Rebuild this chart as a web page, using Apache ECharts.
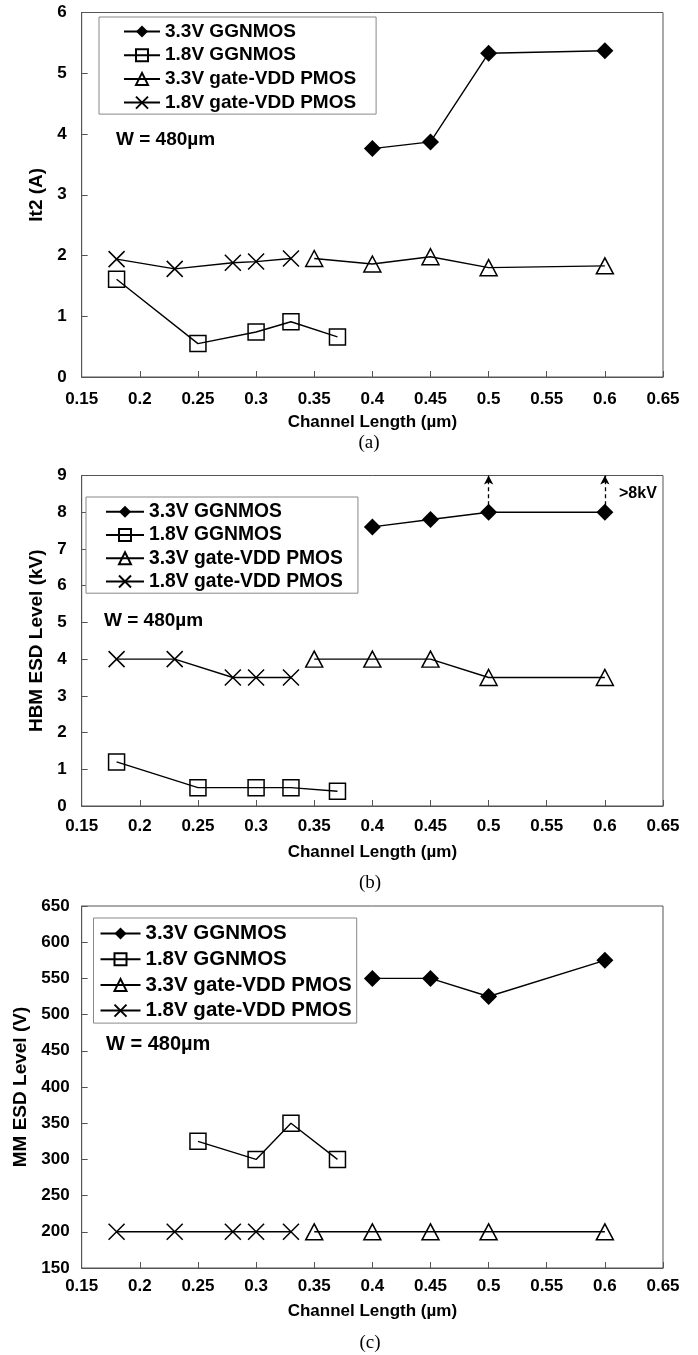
<!DOCTYPE html>
<html>
<head>
<meta charset="utf-8">
<script src="https://cdn.jsdelivr.net/npm/echarts@6/dist/echarts.min.js"></script>
<style>
html,body{margin:0;padding:0;background:#fff;}
#c{width:698px;height:1355px;}
</style>
</head>
<body>
<div id="c"></div>
<script>
// ---------- data ----------
const seriesNames = ['3.3V GGNMOS', '1.8V GGNMOS', '3.3V gate-VDD PMOS', '1.8V gate-VDD PMOS'];
const xGG33 = [0.40, 0.45, 0.50, 0.60];
const xGG18 = [0.18, 0.25, 0.30, 0.33, 0.37];
const xGG18mm = [0.25, 0.30, 0.33, 0.37];
const xPM33 = [0.35, 0.40, 0.45, 0.50, 0.60];
const xPM18 = [0.18, 0.23, 0.28, 0.30, 0.33];

// (a) It2 (A)
const it2GG33 = [3.76, 3.87, 5.33, 5.37];
const it2GG18 = [1.61, 0.55, 0.74, 0.91, 0.66];
const it2PM33 = [1.95, 1.86, 1.98, 1.80, 1.83];
const it2PM18 = [1.94, 1.78, 1.88, 1.90, 1.95];

// (b) HBM ESD level (kV)
const hbmGG33 = [7.6, 7.8, 8.0, 8.0];
const hbmGG18 = [1.2, 0.5, 0.5, 0.5, 0.4];
const hbmPM33 = [4.0, 4.0, 4.0, 3.5, 3.5];
const hbmPM18 = [4.0, 4.0, 3.5, 3.5, 3.5];
const hbmArrowX = [0.50, 0.60];   // ">8kV" points
const hbmArrowTop = 9;

// (c) MM ESD level (V)
const mmGG33 = [550, 550, 525, 575];
const mmGG18 = [325, 300, 350, 300];
const mmPM33 = [200, 200, 200, 200, 200];
const mmPM18 = [200, 200, 200, 200, 200];

const xAxisTicks = {min: 0.15, max: 0.65, interval: 0.05};
const yTicksA = {min: 0, max: 6, interval: 1};
const yTicksB = {min: 0, max: 9, interval: 1};
const yTicksC = {min: 150, max: 650, interval: 50};

const zip = (xs, ys) => xs.map((x, i) => [x, ys[i]]);

// ---------- styles ----------
const FONT = '"Liberation Sans", Arial, sans-serif';
const SERIF = '"Liberation Serif", "Times New Roman", serif';
const AXIS_COLOR = '#555';
const X_PATH = 'path://M0,0L20,20M20,0L0,20';

function seriesSet(idx, gg33, gg18, pm33, pm18, sizes) {
  const base = {
    type: 'line', xAxisIndex: idx, yAxisIndex: idx,
    lineStyle: {color: '#000', width: 1.4},
    emphasis: {disabled: true},
    animation: false, showAllSymbol: true
  };
  return [
    Object.assign({}, base, {
      name: seriesNames[0], data: gg33, symbol: 'diamond', symbolSize: sizes.d,
      itemStyle: {color: '#000', borderColor: '#000', borderWidth: 0}
    }),
    Object.assign({}, base, {
      name: seriesNames[1], data: gg18, symbol: 'rect', symbolSize: sizes.s,
      itemStyle: {color: 'rgba(0,0,0,0)', borderColor: '#000', borderWidth: 1.5}
    }),
    Object.assign({}, base, {
      name: seriesNames[2], data: pm33, symbol: 'triangle', symbolSize: [sizes.t, sizes.t - 1],
      itemStyle: {color: 'rgba(0,0,0,0)', borderColor: '#000', borderWidth: 1.5}
    }),
    Object.assign({}, base, {
      name: seriesNames[3], data: pm18, symbol: X_PATH, symbolSize: sizes.x,
      itemStyle: {color: 'rgba(0,0,0,0)', borderColor: '#000', borderWidth: 1.5}
    })
  ];
}

function xAxisOf(idx, gap, margin) {
  return {
    type: 'value', gridIndex: idx,
    min: xAxisTicks.min, max: xAxisTicks.max, interval: xAxisTicks.interval,
    name: 'Channel Length (µm)', nameLocation: 'middle', nameGap: gap,
    nameTextStyle: {fontFamily: FONT, fontSize: 17, fontWeight: 'bold', color: '#000'},
    axisLine: {show: true, onZero: false, lineStyle: {color: AXIS_COLOR, width: 1}},
    axisTick: {show: true, inside: true, length: 6, lineStyle: {color: AXIS_COLOR}},
    axisLabel: {fontFamily: FONT, fontSize: 17, fontWeight: 'bold', color: '#000', margin: margin,
      formatter: v => String(Math.round(v * 100) / 100)},
    splitLine: {show: false}
  };
}
function yAxisOf(idx, ticks, name, gap, margin) {
  return {
    type: 'value', gridIndex: idx,
    min: ticks.min, max: ticks.max, interval: ticks.interval,
    name: name, nameLocation: 'middle', nameGap: gap,
    nameTextStyle: {fontFamily: FONT, fontSize: 19, fontWeight: 'bold', color: '#000'},
    axisLine: {show: true, lineStyle: {color: AXIS_COLOR, width: 1}},
    axisTick: {show: true, inside: true, length: 6, lineStyle: {color: AXIS_COLOR}},
    axisLabel: {fontFamily: FONT, fontSize: 17, fontWeight: 'bold', color: '#000', margin: margin},
    splitLine: {show: false}
  };
}
function legendOf(left, top, pad, itemWidth, gap, fontSize) {
  return {
    orient: 'vertical', left: left, top: top, padding: pad,
    data: seriesNames, itemWidth: itemWidth, itemHeight: 15, itemGap: gap,
    borderColor: '#888', borderWidth: 1, backgroundColor: '#fff',
    selectedMode: false, inactiveColor: '#000',
    textStyle: {fontFamily: FONT, fontSize: fontSize, fontWeight: 'bold', color: '#000', lineHeight: fontSize}
  };
}

const gridBase = {left: 81.7, right: 35, show: true, borderColor: AXIS_COLOR, borderWidth: 1, backgroundColor: '#fff'};

const sA = seriesSet(0, zip(xGG33, it2GG33), zip(xGG18, it2GG18), zip(xPM33, it2PM33), zip(xPM18, it2PM18), {d: 17, s: 16, t: 17, x: 16});
const sB = seriesSet(1, zip(xGG33, hbmGG33), zip(xGG18, hbmGG18), zip(xPM33, hbmPM33), zip(xPM18, hbmPM18), {d: 17, s: 16, t: 17, x: 16});
const sC = seriesSet(2, zip(xGG33, mmGG33), zip(xGG18mm, mmGG18), zip(xPM33, mmPM33), zip(xPM18, mmPM18), {d: 17, s: 16, t: 17, x: 16});

// dashed arrows for ">8kV"
sB[0].markLine = {
  silent: true, animation: false,
  symbol: ['none', 'arrow'], symbolSize: [7, 9],
  lineStyle: {type: [4, 3], color: '#000', width: 1.3},
  label: {show: false},
  data: hbmArrowX.map(x => [{coord: [x, hbmGG33[xGG33.indexOf(x)]]}, {coord: [x, hbmArrowTop]}])
};

const chart = echarts.init(document.getElementById('c'), null, {renderer: 'canvas'});
chart.setOption({
  backgroundColor: '#fff',
  animation: false,
  grid: [
    Object.assign({}, gridBase, {top: 12.5, height: 364.5}),
    Object.assign({}, gridBase, {top: 475.5, height: 330.5}),
    Object.assign({}, gridBase, {top: 906, height: 362})
  ],
  xAxis: [xAxisOf(0, 37, 14), xAxisOf(1, 38, 12), xAxisOf(2, 35, 10)],
  yAxis: [
    yAxisOf(0, yTicksA, 'It2 (A)', 32, 15),
    yAxisOf(1, yTicksB, 'HBM ESD Level (kV)', 29, 15),
    yAxisOf(2, yTicksC, 'MM ESD Level (V)', 46, 12)
  ],
  legend: [
    legendOf(99, 17, [5, 20, 2, 24], 36, 4.7, 19),
    legendOf(86, 497, [5, 15, 2, 19], 38, 4, 19.3),
    legendOf(93.5, 918, [5, 5, 2, 6], 40, 4.7, 20.5)
  ],
  graphic: [
    {type: 'text', left: 116, top: 130, style: {text: 'W = 480µm', font: 'bold 19px ' + FONT, fill: '#000'}},
    {type: 'text', left: 104, top: 611, style: {text: 'W = 480µm', font: 'bold 19px ' + FONT, fill: '#000'}},
    {type: 'text', left: 106, top: 1034.5, style: {text: 'W = 480µm', font: 'bold 20px ' + FONT, fill: '#000'}},
    {type: 'text', left: 619, top: 486, style: {text: '>8kV', font: 'bold 16px ' + FONT, fill: '#000'}},
    {type: 'text', x: 369, y: 443, style: {text: '(a)', font: '19px ' + SERIF, fill: '#000', align: 'center', verticalAlign: 'middle'}},
    {type: 'text', x: 370, y: 883, style: {text: '(b)', font: '19px ' + SERIF, fill: '#000', align: 'center', verticalAlign: 'middle'}},
    {type: 'text', x: 370, y: 1343, style: {text: '(c)', font: '19px ' + SERIF, fill: '#000', align: 'center', verticalAlign: 'middle'}}
  ],
  series: [].concat(sA, sB, sC)
});
</script>
</body>
</html>
